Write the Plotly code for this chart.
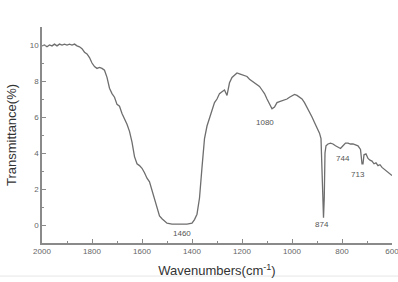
import plotly.graph_objects as go

wavenumber = [2000, 1990, 1980, 1970, 1960, 1950, 1940, 1930, 1920, 1910, 1900, 1890, 1880, 1870, 1860,
              1850, 1840, 1830, 1820, 1810, 1800, 1790, 1780, 1770, 1760, 1750, 1740, 1730, 1720, 1710,
              1700, 1690, 1680, 1670, 1660, 1650, 1640, 1630, 1620, 1610, 1600, 1590, 1580, 1570, 1560,
              1550, 1540, 1530, 1520, 1510, 1500, 1480, 1460, 1440, 1420, 1400, 1390, 1380, 1370, 1360,
              1350, 1340, 1330, 1320, 1310, 1300, 1290, 1280, 1270, 1260, 1250, 1240, 1230, 1220, 1210,
              1200, 1190, 1180, 1170, 1160, 1150, 1140, 1130, 1120, 1110, 1100, 1090, 1080, 1070, 1060,
              1050, 1040, 1030, 1020, 1010, 1000, 990, 980, 970, 960, 950, 940, 930, 920, 910,
              900, 890, 884, 880, 876, 874, 871, 868, 864, 856, 846, 836, 826, 816, 806,
              796, 786, 776, 766, 756, 746, 736, 726, 720, 716, 712, 704, 696, 688, 680,
              672, 664, 656, 648, 640, 630, 620, 610, 600]
transmittance = [9.95, 10.0, 9.9, 10.0, 9.95, 10.05, 9.95, 10.05, 10.0, 10.05, 10.0, 10.05, 10.0, 10.05, 9.95,
                 9.9, 9.8, 9.6, 9.5, 9.3, 9.0, 8.8, 8.7, 8.75, 8.7, 8.6, 8.2, 7.6, 7.3, 7.1,
                 6.7, 6.6, 6.2, 5.9, 5.6, 5.2, 4.6, 3.8, 3.4, 3.3, 3.15, 2.9, 2.6, 2.4, 1.9,
                 1.4, 0.9, 0.5, 0.35, 0.2, 0.1, 0.05, 0.05, 0.05, 0.05, 0.1, 0.3, 0.6, 1.5, 3.2,
                 4.8, 5.5, 5.9, 6.3, 6.8, 7.0, 7.3, 7.4, 7.5, 7.2, 7.9, 8.2, 8.35, 8.45, 8.4,
                 8.35, 8.3, 8.25, 8.1, 8.0, 7.95, 7.8, 7.7, 7.5, 7.3, 7.0, 6.7, 6.45, 6.55, 6.8,
                 6.85, 6.9, 6.95, 7.0, 7.1, 7.2, 7.25, 7.2, 7.1, 7.0, 6.8, 6.55, 6.3, 6.0, 5.7,
                 5.4, 5.1, 4.8, 3.0, 0.5, 0.4, 1.5, 4.0, 4.4, 4.5, 4.55, 4.5, 4.4, 4.3, 4.25,
                 4.4, 4.55, 4.55, 4.5, 4.5, 4.45, 4.4, 4.2, 3.4, 3.4, 3.9, 3.95, 3.7, 3.6, 3.55,
                 3.4, 3.45, 3.3, 3.35, 3.2, 3.1, 3.0, 2.9, 2.75]

peak_labels = ["1460", "1080", "874", "744", "713"]
peak_x = [1440, 1108, 880, 796, 736]
peak_y = [-0.45, 5.7, 0.05, 3.7, 2.8]

x_tickvals = [2000, 1800, 1600, 1400, 1200, 1000, 800, 600]
y_tickvals = [0, 2, 4, 6, 8, 10]

fig = go.Figure()
fig.add_trace(go.Scatter(x=wavenumber, y=transmittance, mode="lines",
                         line=dict(color="#6e6e6e", width=1.3), showlegend=False))

for t, xv, yv in zip(peak_labels, peak_x, peak_y):
    fig.add_annotation(x=xv, y=yv, text=t, showarrow=False,
                       font=dict(size=8, color="#555555", family="Liberation Sans"))

axis_common = dict(showline=True, linecolor="#8a8a8a", linewidth=1.5, showgrid=False, zeroline=False,
                   ticks="inside", ticklen=4, tickcolor="#8a8a8a", tickwidth=1,
                   ticklabeloverflow="allow", automargin=False,
                   tickfont=dict(size=8, color="#666666", family="Liberation Sans"), mirror=False)

fig.update_xaxes(range=[2000, 600], tickvals=x_tickvals, ticktext=[str(v) for v in x_tickvals],
                 minor=dict(dtick=100, ticks="inside", ticklen=2, tickcolor="#8a8a8a"),
                 title=dict(text="Wavenumbers(cm<sup>-1</sup>)", standoff=11,
                            font=dict(size=13, color="#333333", family="Liberation Sans")),
                 **axis_common)
fig.update_yaxes(range=[-1, 11], tickvals=y_tickvals, ticktext=["0", "2", "4", "6", "8", "10"],
                 minor=dict(dtick=1, tick0=0, ticks="inside", ticklen=2, tickcolor="#8a8a8a"),
                 title=dict(text="Transmittance(%)", standoff=10,
                            font=dict(size=13, color="#333333", family="Liberation Sans")),
                 **axis_common)

fig.add_shape(type="line", xref="paper", yref="paper", x0=-0.12, x1=1.02, y0=-0.153, y1=-0.153,
              line=dict(color="#e6e6e6", width=1))

fig.update_layout(width=398, height=282, margin=dict(l=42, r=6, t=27, b=39),
                  plot_bgcolor="white", paper_bgcolor="white")

fig.write_html("out.html", config={"displayModeBar": False},
               post_script="document.body.style.margin='0px';")
